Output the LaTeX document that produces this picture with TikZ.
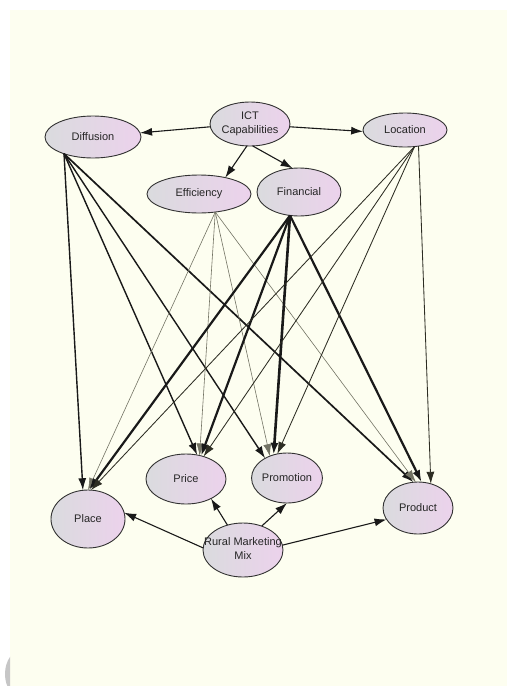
\documentclass[tikz,border=0pt]{standalone}
\usepackage{fontspec}
\setmainfont{Liberation Sans}
\usetikzlibrary{arrows.meta,shapes.geometric}
\definecolor{bgcream}{RGB}{253,254,240}
\definecolor{nodegray}{RGB}{218,219,222}
\definecolor{nodepink}{RGB}{236,210,236}
\definecolor{nodeline}{RGB}{50,50,50}
\definecolor{effgray}{RGB}{115,115,100}
\definecolor{locgray}{RGB}{45,45,35}
\begin{document}
\begin{tikzpicture}[x=1pt,y=-1pt,
  var/.style={ellipse, draw=nodeline, line width=0.9pt, left color=nodegray, right color=nodepink,
    inner sep=0pt, outer sep=0pt, font=\fontsize{11}{13.5}\selectfont, text=black!85, align=center},
  link/.style={-{Latex[length=12pt,width=8pt]}, draw=black!90, line width=1.1pt},
  diflink/.style={link, line width=1.4pt},
  efflink/.style={link, draw=effgray, line width=0.6pt},
  finlink/.style={link, line width=2.2pt},
  loclink/.style={link, draw=locgray, line width=0.85pt}]
\useasboundingbox (0,0) rectangle (507,686);
\fill[white] (0,0) rectangle (507,686);
\fill[bgcream] (10,10) rectangle (507,686);
\begin{scope}
  \clip (0,640) rectangle (10,686);
  \fill[gray!45] (22,674) ellipse (17 and 24);
\end{scope}

\node[var, minimum width=80pt, minimum height=44pt] (ict) at (250,124) {\makebox[0pt]{\begin{tabular}{@{}c@{}}ICT\\Capabilities\end{tabular}}};
\node[var, minimum width=96pt, minimum height=42pt] (dif) at (93,137) {Diffusion};
\node[var, minimum width=84pt, minimum height=34pt] (loc) at (405,130) {Location};
\node[var, minimum width=104pt, minimum height=38pt] (eff) at (199,194) {Efficiency};
\node[var, minimum width=84pt, minimum height=48pt] (fin) at (299,192) {Financial};
\node[var, minimum width=80pt, minimum height=50pt] (price) at (186,479) {Price};
\node[var, minimum width=70pt, minimum height=50pt] (promo) at (287,478) {Promotion};
\node[var, minimum width=70pt, minimum height=52pt] (prod) at (418,508) {Product};
\node[var, minimum width=74pt, minimum height=58pt] (place) at (88,519) {Place};
\node[var, minimum width=80pt, minimum height=54pt] (rmm) at (243,550) {\makebox[0pt]{\begin{tabular}{@{}c@{}}Rural Marketing\\Mix\end{tabular}}};

% ICT capabilities
\draw[link] (ict.184) -- (dif.5);
\draw[link] (ict.356) -- (loc.182);
\draw[link] (ict.262) -- (eff.32);
\draw[link] (ict.277) -- (fin.105);

% Diffusion
\draw[diflink] (dif.210) -- (place.100);
\draw[diflink] (dif.210) -- (price.65);
\draw[diflink] (dif.210) -- (promo.138);
\draw[diflink, line width=1.7pt] (dif.210) -- (prod.100);

% Efficiency
\draw[efflink] (eff.312) -- (place.90);
\draw[efflink] (eff.312) -- (price.60);
\draw[efflink] (eff.312) -- (promo.128);
\draw[efflink] (eff.312) -- (prod.95);

% Financial
\draw[finlink] (fin.249) -- (place.88);
\draw[finlink] (fin.249) -- (price.57);
\draw[finlink, line width=2.6pt] (fin.249) -- (promo.120);
\draw[finlink] (fin.249) -- (prod.82);

% Location
\draw[loclink] (loc.300) -- (place.84);
\draw[loclink] (loc.300) -- (price.52);
\draw[loclink] (loc.300) -- (promo.112);
\draw[loclink] (loc.310) -- (prod.62);

% Rural Marketing Mix
\draw[link] (rmm.177) -- (place.10);
\draw[link] (rmm.122) -- (price.322);
\draw[link] (rmm.52) -- (promo.270);
\draw[link] (rmm.7) -- (prod.200);
\end{tikzpicture}
\end{document}
